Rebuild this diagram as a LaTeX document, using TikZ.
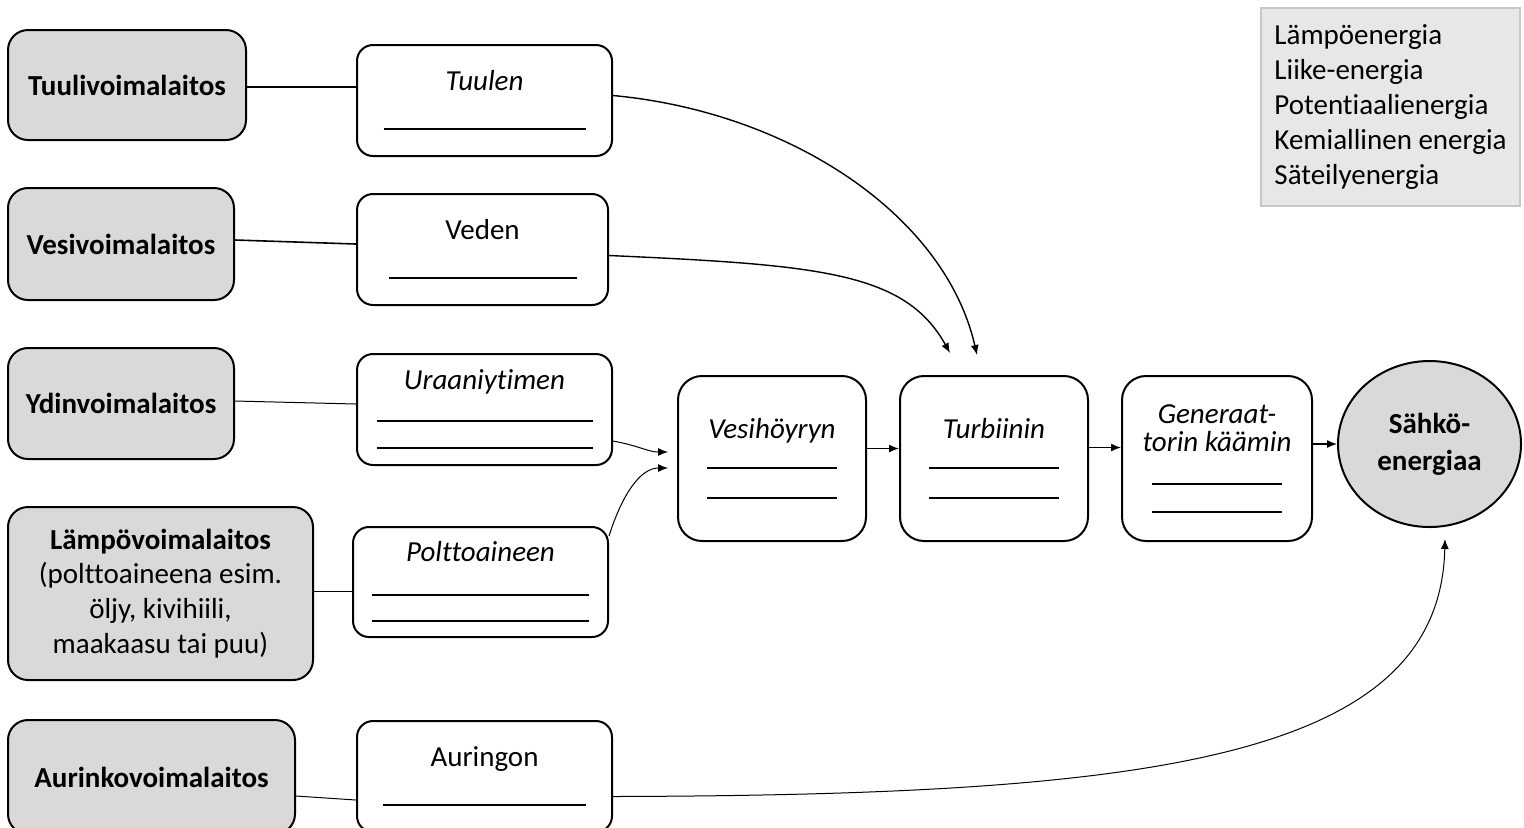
\documentclass[tikz,border=0pt]{standalone}
\usepackage{fontspec}
\setmainfont{Carlito}[Ligatures=NoCommon]
\usetikzlibrary{arrows.meta, shapes.geometric}

\definecolor{plantgray}{HTML}{D9D9D9}
\definecolor{legendgray}{HTML}{E7E7E7}
\definecolor{legendline}{HTML}{C8C8C8}

\newcommand{\blank}[1]{\rule{#1}{1pt}}

\begin{document}
\begin{tikzpicture}[x=0.5pt, y=-0.5pt, font=\fontsize{14.5}{17.4}\selectfont,
  plant/.style={draw, line width=1pt, fill=plantgray, rounded corners=10pt, align=center, inner sep=0pt},
  form/.style={draw, line width=1pt, fill=white, rounded corners=8pt, align=center, inner sep=0pt, minimum width=127.5pt, minimum height=55.5pt},
  stage/.style={draw, line width=1pt, rounded corners=12pt, align=center, inner sep=0pt, minimum width=94pt, minimum height=82.5pt},
  flow/.style={-{Latex[length=5pt,width=4pt]}, line width=0.7pt},
  link/.style={line width=0.8pt}]
  \useasboundingbox (0,0) rectangle (1524,827);

  % voimalaitokset
  \node[plant, minimum width=119pt, minimum height=55pt] (tuuli) at (127,85) {\textbf{Tuulivoimalaitos}};
  \node[plant, minimum width=113pt, minimum height=56pt] (vesi) at (121,244) {\textbf{Vesivoimalaitos}};
  \node[plant, minimum width=113pt, minimum height=55.5pt] (ydin) at (121,403.5) {\textbf{Ydinvoimalaitos}};
  \node[plant, minimum width=152.5pt, minimum height=86.5pt] (lampo) at (160.5,593.5)
    {\textbf{Lämpövoimalaitos}\\(polttoaineena esim.\\öljy, kivihiili,\\maakaasu tai puu)};
  \node[plant, minimum width=143.5pt, minimum height=57pt] (aurinko) at (151.5,777) {\textbf{Aurinkovoimalaitos}};

  % energiamuodot
  \node[form] (tuulen) at (484.5,100.5) {\textit{Tuulen}\\[2.5pt]\blank{101pt}};
  \node[form, minimum width=125.5pt] (veden) at (482.5,249.5) {Veden\\[2.5pt]\blank{94pt}};
  \node[form] (uraani) at (484.5,409.5) {\textit{Uraaniytimen}\\[-1pt]\blank{108pt}\\[-4pt]\blank{108pt}};
  \node[form, minimum height=55pt] (poltto) at (480.5,582) {\textit{Polttoaineen}\\[-0.5pt]\blank{108.5pt}\\[-4pt]\blank{108.5pt}};
  \node[form] (auringon) at (484.5,776.5) {Auringon\\[2.5pt]\blank{101.5pt}};

  % muunnosketju
  \node[stage] (hoyry) at (772,458.5) {\textit{Vesihöyryn}\\[-2pt]\blank{65pt}\\[-2.5pt]\blank{65pt}};
  \node[stage] (turbiini) at (994,458.5) {\textit{Turbiinin}\\[-2pt]\blank{65pt}\\[-2.5pt]\blank{65pt}};
  \node[stage, minimum width=95pt] (generaattori) at (1217,458.5)
    {\textit{Generaat-}\\[-3.4pt]\textit{torin käämin}\\[-0.5pt]\blank{65pt}\\[-3.5pt]\blank{65pt}};
  \node[ellipse, draw, line width=1pt, fill=plantgray, align=center, inner sep=0pt,
        minimum width=91.5pt, minimum height=83pt] (sahko) at (1429.5,444)
    {\textbf{Sähkö-}\\[1pt]\textbf{energiaa}};

  \node[draw=legendline, line width=0.8pt, fill=legendgray, align=left, inner sep=0pt,
        minimum width=129.5pt, minimum height=99pt] (lista) at (1390.5,107)
    {Lämpöenergia\\Liike-energia\\Potentiaalienergia\\Kemiallinen energia\\Säteilyenergia};

  \coordinate (tin1) at ([xshift=-8.5pt,yshift=10pt]turbiini.north);
  \coordinate (tin2) at ([xshift=-22pt,yshift=11pt]turbiini.north);
  \coordinate (hin1) at ([xshift=-4.5pt,yshift=3.25pt]hoyry.west);
  \coordinate (hin2) at ([xshift=-4.5pt,yshift=-4.75pt]hoyry.west);
  \coordinate (sin) at ([xshift=7.75pt,yshift=-5.5pt]sahko.south);

  \draw[link] ([yshift=-1pt]tuuli.east) -- ([yshift=6.75pt]tuulen.west);
  \draw[link] ([yshift=2pt]vesi.east) -- ([yshift=2.75pt]veden.west);
  \draw[line width=0.5pt] ([yshift=1.25pt]ydin.east) -- ([yshift=2.75pt]uraani.west);
  \draw[line width=0.5pt] ([yshift=1.25pt]lampo.east) -- ([yshift=-4.5pt]poltto.west);
  \draw[line width=0.5pt] ([yshift=-9.5pt]aurinko.east) -- ([yshift=-11.75pt]auringon.west);

  \draw[flow] ([yshift=2.5pt]tuulen.east) .. controls (790,112) and (945,215) .. (tin1);
  \draw[flow] ([yshift=-3pt]veden.east) .. controls (820,265) and (905,272) .. (tin2);
  \draw[flow, line width=0.5pt] ([yshift=-15.75pt]uraani.east) .. controls (640,446) and (648,452) .. (hin1);
  \draw[flow, line width=0.5pt] ([yshift=-5pt]poltto.north east) .. controls (622,495) and (640,468) .. (hin2);
  \draw[flow, line width=0.5pt] ([yshift=-10pt]auringon.east) .. controls (1150,795) and (1440,760) .. (sin);

  \draw[flow] ([yshift=5pt]hoyry.east) -- ([yshift=5pt]turbiini.west);
  \draw[flow] ([yshift=5.5pt]turbiini.east) -- ([yshift=5.5pt]generaattori.east -| generaattori.west);
  \draw[flow] (generaattori.east |- sahko.west) -- (sahko.west);
\end{tikzpicture}
\end{document}
